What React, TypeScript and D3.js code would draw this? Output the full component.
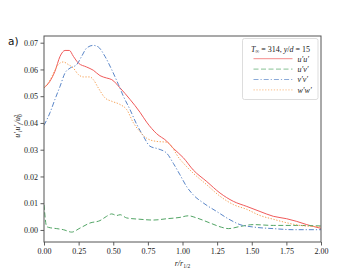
import { useEffect, useRef } from "react";
import * as d3 from "d3";

// u'u'
const uuR = [0, 0.043, 0.079, 0.116, 0.152, 0.183, 0.212, 0.248, 0.308, 0.356, 0.404, 0.452, 0.489, 0.549, 0.621, 0.693, 0.741, 0.813, 0.886, 0.934, 1.006, 1.078, 1.175, 1.271, 1.367, 1.464, 1.56, 1.656, 1.752, 1.825, 1.897, 2.0];
const uuV = [0.0531, 0.0556, 0.0593, 0.0649, 0.0671, 0.0671, 0.0649, 0.0624, 0.0609, 0.0597, 0.0577, 0.0568, 0.0562, 0.0531, 0.0488, 0.044, 0.0403, 0.036, 0.0332, 0.0305, 0.027, 0.0224, 0.0181, 0.0138, 0.0107, 0.0088, 0.0069, 0.0051, 0.0042, 0.0032, 0.002, 0.0006];
// u'v'
const uvR = [0, 0.019, 0.031, 0.092, 0.14, 0.2, 0.26, 0.332, 0.404, 0.452, 0.489, 0.525, 0.549, 0.597, 0.693, 0.789, 0.886, 0.982, 1.042, 1.102, 1.199, 1.283, 1.331, 1.415, 1.511, 1.656, 1.8, 2.0];
const uvV = [0.0094, 0.0013, 0.001, 0.0005, 0.0001, -0.0008, 0.0007, 0.0026, 0.0035, 0.0051, 0.006, 0.0054, 0.0057, 0.0045, 0.004, 0.0037, 0.0042, 0.0047, 0.0053, 0.0045, 0.0026, 0.001, 0.0005, 0.0013, 0.002, 0.0017, 0.0017, 0.0015];
// v'v'
const vvR = [0, 0.043, 0.079, 0.116, 0.152, 0.188, 0.236, 0.272, 0.308, 0.356, 0.392, 0.44, 0.489, 0.537, 0.573, 0.621, 0.669, 0.717, 0.765, 0.825, 0.886, 0.934, 0.982, 1.03, 1.078, 1.15, 1.247, 1.343, 1.415, 1.511, 1.656, 1.8, 2.0];
const vvV = [0.0391, 0.0438, 0.0488, 0.0537, 0.0587, 0.0605, 0.0618, 0.0649, 0.068, 0.069, 0.0684, 0.0649, 0.0599, 0.0544, 0.05, 0.045, 0.0395, 0.0351, 0.0313, 0.0303, 0.0287, 0.0249, 0.0206, 0.0162, 0.0131, 0.0101, 0.0069, 0.0038, 0.002, 0.0011, 0.0005, 0.0001, 0.0001];
// w'w'
const wwR = [0, 0.043, 0.079, 0.103, 0.139, 0.176, 0.212, 0.248, 0.284, 0.332, 0.356, 0.392, 0.44, 0.489, 0.549, 0.597, 0.645, 0.693, 0.741, 0.813, 0.886, 0.982, 1.078, 1.175, 1.271, 1.367, 1.464, 1.56, 1.656, 1.752, 1.849, 2.0];
const wwV = [0.0531, 0.056, 0.0597, 0.0618, 0.0628, 0.0618, 0.0605, 0.0581, 0.0572, 0.0572, 0.0562, 0.0531, 0.0494, 0.0481, 0.0469, 0.045, 0.0401, 0.0367, 0.0343, 0.0331, 0.0328, 0.0264, 0.0212, 0.0169, 0.0126, 0.0095, 0.0077, 0.0054, 0.004, 0.0027, 0.0017, 0.0012];

const xTicks = [0, 0.25, 0.5, 0.75, 1.0, 1.25, 1.5, 1.75, 2.0];
const yTicks = [0, 0.01, 0.02, 0.03, 0.04, 0.05, 0.06, 0.07];

const series = [
  { name: "u′u′", r: uuR, v: uuV, color: "#f05a5a", dash: "" },
  { name: "u′v′", r: uvR, v: uvV, color: "#52a565", dash: "5,2.5" },
  { name: "v′v′", r: vvR, v: vvV, color: "#5a86c8", dash: "5,2,1.2,2" },
  { name: "w′w′", r: wwR, v: wwV, color: "#f7a256", dash: "1.3,1.6" },
];

const App = () => {
  const ref = useRef<HTMLDivElement | null>(null);

  function chartRender(svg: any) {
    const width = 357;
    const height = 276;
    const left = 44;
    const right = 321;
    const top = 36;
    const bottom = 242;
    const serif = "'Liberation Serif', 'DejaVu Serif', serif";

    svg.attr("width", width).attr("height", height).style("display", "block");

    const x = d3.scaleLinear().domain([0, 2]).range([left, right]);
    const y = d3.scaleLinear().domain([-0.0045, 0.0725]).range([bottom, top]);

    svg.append("rect").attr("width", width).attr("height", height).attr("fill", "#fff");

    // axes
    const xAxis = d3.axisBottom(x).tickValues(xTicks).tickFormat(d3.format(".2f")).tickSize(3.5).tickPadding(3);
    const yAxis = d3.axisLeft(y).tickValues(yTicks).tickFormat(d3.format(".2f")).tickSize(3.5).tickPadding(2.5);

    const gx = svg.append("g").attr("transform", `translate(0,${bottom})`).call(xAxis);
    const gy = svg.append("g").attr("transform", `translate(${left},0)`).call(yAxis);
    [gx, gy].forEach((g) => {
      g.select(".domain").remove();
      g.selectAll("line").attr("stroke", "#333").attr("stroke-width", 0.8);
      g.selectAll("text").attr("font-family", serif).attr("font-size", 8).attr("fill", "#222");
    });

    // curves
    const clip = svg.append("clipPath").attr("id", "plotclip");
    clip.append("rect").attr("x", left).attr("y", top).attr("width", right - left).attr("height", bottom - top);

    series.forEach((s) => {
      const pts: [number, number][] = s.r.map((r, i) => [r, s.v[i]]);
      const line = d3
        .line<[number, number]>()
        .x((d) => x(d[0]))
        .y((d) => y(d[1]))
        .curve(d3.curveMonotoneX);
      svg
        .append("path")
        .attr("d", line(pts))
        .attr("fill", "none")
        .attr("stroke", s.color)
        .attr("stroke-width", 1)
        .attr("stroke-dasharray", s.dash || null)
        .attr("clip-path", "url(#plotclip)");
    });

    // frame
    svg
      .append("rect")
      .attr("x", left)
      .attr("y", top)
      .attr("width", right - left)
      .attr("height", bottom - top)
      .attr("fill", "none")
      .attr("stroke", "#555")
      .attr("stroke-width", 1);

    // legend
    const lg = svg.append("g");
    lg.append("rect")
      .attr("x", 242.5)
      .attr("y", 38.5)
      .attr("width", 75.5)
      .attr("height", 61)
      .attr("rx", 2)
      .attr("fill", "#fff")
      .attr("fill-opacity", 0.85)
      .attr("stroke", "#d4d4d4")
      .attr("stroke-width", 0.8);
    const title = lg
      .append("text")
      .attr("x", 280.5)
      .attr("y", 51.5)
      .attr("text-anchor", "middle")
      .attr("font-family", serif)
      .attr("font-size", 8)
      .attr("fill", "#222");
    title.append("tspan").attr("font-style", "italic").text("T");
    title.append("tspan").attr("font-size", 5.5).attr("dy", 1.5).text("∞");
    title.append("tspan").attr("dy", -1.5).text(" = 314, ");
    title.append("tspan").attr("font-style", "italic").text("y");
    title.append("tspan").text("/");
    title.append("tspan").attr("font-style", "italic").text("d");
    title.append("tspan").text(" = 15");

    series.forEach((s, i) => {
      const ly = 58.7 + i * 10.4;
      lg.append("line")
        .attr("x1", 253.5)
        .attr("x2", 292.5)
        .attr("y1", ly)
        .attr("y2", ly)
        .attr("stroke", s.color)
        .attr("stroke-opacity", 0.7)
        .attr("stroke-width", 1)
        .attr("stroke-dasharray", s.dash || null);
      lg.append("text")
        .attr("x", 297.5)
        .attr("y", ly + 2.8)
        .attr("font-family", serif)
        .attr("font-style", "italic")
        .attr("font-size", 8)
        .attr("fill", "#222")
        .text(s.name);
    });

    // labels
    svg
      .append("text")
      .attr("x", 8)
      .attr("y", 45)
      .attr("font-family", "'DejaVu Sans', sans-serif")
      .attr("font-size", 10.5)
      .attr("fill", "#111")
      .text("a)");

    const xl = svg
      .append("text")
      .attr("x", (left + right) / 2)
      .attr("y", 266)
      .attr("text-anchor", "middle")
      .attr("font-family", serif)
      .attr("font-size", 8)
      .attr("font-style", "italic")
      .attr("fill", "#222");
    xl.append("tspan").text("r/r");
    xl.append("tspan").attr("font-size", 5.5).attr("dy", 1.8).attr("font-style", "normal").text("1/2");

    const yl = svg
      .append("text")
      .attr("transform", `translate(20,126) rotate(-90)`)
      .attr("text-anchor", "middle")
      .attr("font-family", serif)
      .attr("font-size", 8)
      .attr("font-style", "italic")
      .attr("fill", "#222");
    yl.append("tspan").text("u′");
    yl.append("tspan").attr("font-size", 5.5).attr("dy", 1.5).text("i");
    yl.append("tspan").attr("dy", -1.5).text("u′");
    yl.append("tspan").attr("font-size", 5.5).attr("dy", 1.5).text("j");
    yl.append("tspan").attr("dy", -1.5).text("/u");
    yl.append("tspan").attr("font-size", 5.5).attr("dy", 1.5).attr("font-style", "normal").text("0");
    yl.append("tspan").attr("font-size", 5.5).attr("dy", -4).attr("dx", -3).attr("font-style", "normal").text("2");
  }

  useEffect(() => {
    if (ref.current) {
      const svg = d3.select(ref.current).append("svg");
      chartRender(svg);
      return () => {
        svg.remove();
      };
    }
  }, []);

  return <div ref={ref} style={{ position: "absolute", left: 0, top: 0 }}></div>;
};

export default App;
